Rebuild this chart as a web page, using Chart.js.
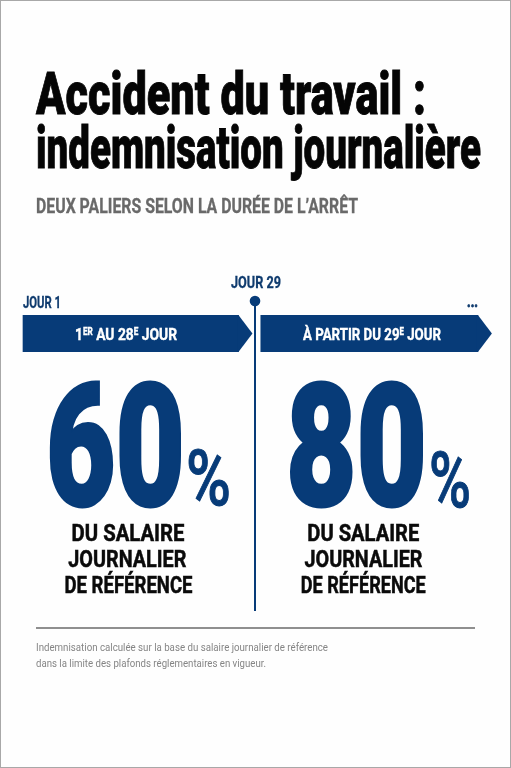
<!DOCTYPE html>
<html lang="fr">
<head>
<meta charset="utf-8">
<title>Accident du travail : indemnisation journalière</title>
<script src="https://cdn.jsdelivr.net/npm/chart.js@4/dist/chart.umd.min.js"></script>
<style>
    html, body { margin: 0; padding: 0; background: #fefefe; }
    #wrap { position: relative; width: 511px; height: 768px; overflow: hidden; }
    #chart { position: absolute; left: 0; top: 0; }
    #frame { position: absolute; inset: 0; border: 1px solid #a8a8a8; box-sizing: border-box; pointer-events: none; }
</style>
</head>
<body>
<div id="wrap">
    <canvas id="chart" width="511" height="768"></canvas>
    <div id="frame"></div>
</div>
<script>
// Données du graphique
const paliers = ['1er au 28e jour', 'à partir du 29e jour'];
const debutPalier = [1, 29.7];
const finPalier = [27, 55.9];
const taux = [60, 80];
const jourRepere = 29;

// Couleurs
const NAVY = '#073b78';
const NAVY_TEXT = '#0f3b6e';

// Échelle : jour 1 à x=23, jour 29 à x=255
const PX_PAR_JOUR = (255 - 23) / 28;
const X_MIN = 1 - 23 / PX_PAR_JOUR;
const X_MAX = X_MIN + 511 / PX_PAR_JOUR;

// Texte comprimé pour tenir dans une largeur donnée, graisse renforcée par un contour
function texte(ctx, str, x, y, font, color, largeur, align, contour) {
    ctx.save();
    ctx.font = font;
    ctx.fillStyle = color;
    ctx.strokeStyle = color;
    ctx.lineJoin = 'miter';
    ctx.textBaseline = 'alphabetic';
    ctx.textAlign = 'left';
    const w = ctx.measureText(str).width;
    const k = largeur / w;
    const x0 = align === 'center' ? x - largeur / 2 : x;
    ctx.translate(x0, y);
    ctx.scale(k, 1);
    if (contour) {
        ctx.lineWidth = contour;
        ctx.strokeText(str, 0, 0);
    }
    ctx.fillText(str, 0, 0);
    ctx.restore();
}

// Libellé de bande avec exposants : segments [texte, exposant ?]
function libelleBande(ctx, segments, x, y, largeur) {
    ctx.save();
    const normal = '700 17px "Roboto"';
    const petit = '700 10px "Roboto"';
    let total = 0;
    segments.forEach(s => {
        ctx.font = s[1] ? petit : normal;
        total += ctx.measureText(s[0]).width;
    });
    const k = largeur / total;
    ctx.translate(x, y);
    ctx.scale(k, 1);
    ctx.fillStyle = '#ffffff';
    ctx.strokeStyle = '#ffffff';
    ctx.lineWidth = 0.4;
    let cx = 0;
    segments.forEach(s => {
        ctx.font = s[1] ? petit : normal;
        ctx.strokeText(s[0], cx, s[1] ? -5 : 0);
        ctx.fillText(s[0], cx, s[1] ? -5 : 0);
        cx += ctx.measureText(s[0]).width;
    });
    ctx.restore();
}

// Pointes de flèche, repère du jour 29, chiffres et textes
const habillage = {
    id: 'habillage',
    afterDatasetsDraw(chart) {
        const { ctx, scales: { x }, chartArea } = chart;
        const haut = chartArea.top;
        const bas = chartArea.bottom;
        const milieu = (haut + bas) / 2;

        // Pointes des deux bandes
        finPalier.forEach(fin => {
            const px = x.getPixelForValue(fin);
            ctx.fillStyle = NAVY;
            ctx.beginPath();
            ctx.moveTo(px - 1, haut);
            ctx.lineTo(px, haut);
            ctx.lineTo(px + 14, milieu);
            ctx.lineTo(px, bas);
            ctx.lineTo(px - 1, bas);
            ctx.closePath();
            ctx.fill();
        });

        // Repère vertical
        const xr = x.getPixelForValue(jourRepere);
        ctx.strokeStyle = NAVY;
        ctx.lineWidth = 2;
        ctx.beginPath();
        ctx.moveTo(xr, 301);
        ctx.lineTo(xr, 611);
        ctx.stroke();
        ctx.fillStyle = NAVY;
        ctx.beginPath();
        ctx.arc(xr, 301, 5.3, 0, Math.PI * 2);
        ctx.fill();

        // Titre
        const titre = '900 59.5px "Roboto"';
        texte(ctx, 'Accident du travail :', 36, 113.5, titre, '#050505', 390, 'left', 0.9);
        texte(ctx, 'indemnisation journalière', 36, 167.5, titre, '#050505', 445, 'left', 0.9);
        texte(ctx, 'DEUX PALIERS SELON LA DURÉE DE L’ARRÊT', 36, 212.5, '700 20px "Roboto"', '#696969', 322, 'left', 0.3);

        // Repères de jours
        const jour = '700 16.5px "Roboto"';
        texte(ctx, 'JOUR 1', 23, 307.5, jour, NAVY_TEXT, 38, 'left', 0.3);
        texte(ctx, 'JOUR 29', 231, 288, jour, NAVY_TEXT, 50, 'left', 0.3);
        texte(ctx, '...', 467, 307, jour, NAVY_TEXT, 11, 'left', 0.8);

        // Libellés des bandes
        libelleBande(ctx, [['1', false], ['ER', true], [' AU 28', false], ['E', true], [' JOUR', false]], 75, 340, 102);
        libelleBande(ctx, [['À PARTIR DU 29', false], ['E', true], [' JOUR', false]], 303, 340, 138);

        // Grands pourcentages
        const grand = '900 170px "Roboto"';
        const pct = '500 78px "Roboto"';
        texte(ctx, String(taux[0]), 46, 504.5, grand, NAVY, 139, 'left', 3);
        texte(ctx, '%', 186, 505, pct, NAVY, 45, 'left', 1);
        texte(ctx, String(taux[1]), 286, 504.5, grand, NAVY, 141, 'left', 3);
        texte(ctx, '%', 429, 507, pct, NAVY, 42, 'left', 1);

        // Légendes sous les pourcentages
        const leg = '700 23px "Roboto"';
        const lignes = ['DU SALAIRE', 'JOURNALIER', 'DE RÉFÉRENCE'];
        const base = [541, 566.7, 592.7];
        const blocs = [
            { cx: [128, 127.3, 128.5], larg: [113, 118, 128] },
            { cx: [363.3, 363.5, 363.3], larg: [112, 118, 125] }
        ];
        blocs.forEach(b => {
            lignes.forEach((l, i) => texte(ctx, l, b.cx[i], base[i], leg, '#0a0a0a', b.larg[i], 'center', 0.5));
        });

        // Filet et note
        ctx.fillStyle = '#8f8f8f';
        ctx.fillRect(36, 627, 439, 2);
        const note = '400 10.5px "Roboto"';
        texte(ctx, 'Indemnisation calculée sur la base du salaire journalier de référence', 36, 651, note, '#858585', 292);
        texte(ctx, 'dans la limite des plafonds réglementaires en vigueur.', 36, 667, note, '#858585', 230);
    }
};

new Chart(document.getElementById('chart'), {
    type: 'bar',
    data: {
        labels: ['palier'],
        datasets: paliers.map((nom, i) => ({
            label: nom,
            data: [[debutPalier[i], finPalier[i]]],
            backgroundColor: NAVY,
            borderWidth: 0,
            barPercentage: 1,
            categoryPercentage: 1,
            grouped: false
        }))
    },
    options: {
        indexAxis: 'y',
        responsive: false,
        animation: false,
        layout: { padding: { top: 315, bottom: 416, left: 0, right: 0 } },
        scales: {
            x: { type: 'linear', min: X_MIN, max: X_MAX, display: false },
            y: { display: false }
        },
        plugins: {
            legend: { display: false },
            tooltip: { enabled: false }
        }
    },
    plugins: [habillage]
});
</script>
</body>
</html>
